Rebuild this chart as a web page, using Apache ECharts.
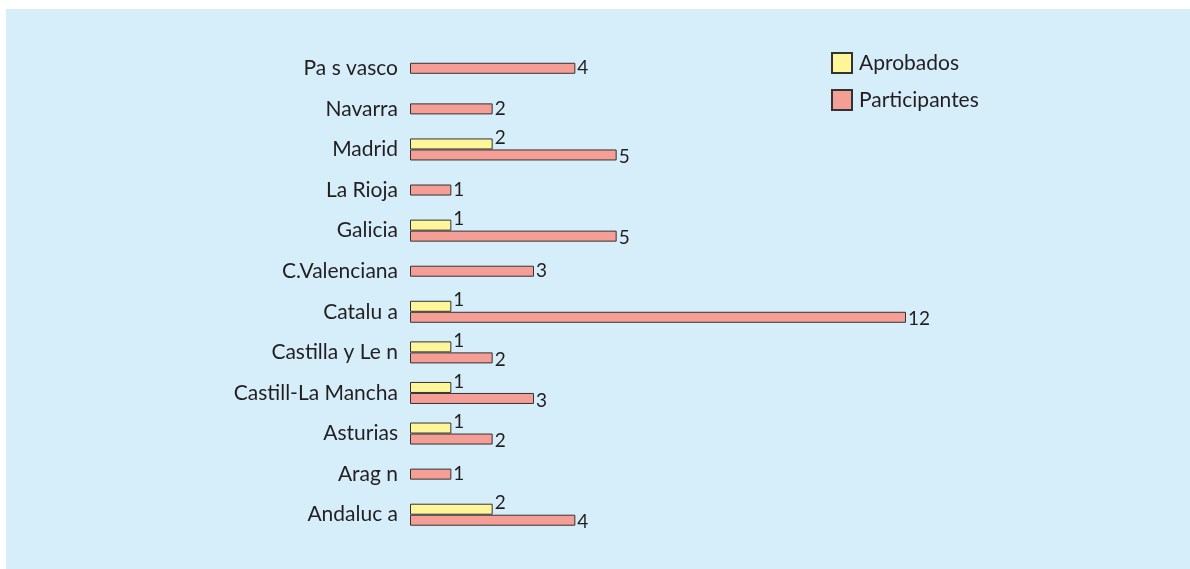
<!DOCTYPE html>
<html>
<head>
<meta charset="utf-8">
<script src="https://cdn.jsdelivr.net/npm/echarts@6/dist/echarts.min.js"></script>
<style>
  html, body { margin: 0; padding: 0; background: #fff; }
  #chart { width: 1190px; height: 569px; }
</style>
</head>
<body>
<div id="chart"></div>
<script>
// categorias de arriba abajo
const regiones = ['Pa s vasco', 'Navarra', 'Madrid', 'La Rioja', 'Galicia', 'C.Valenciana',
  'Catalu a', 'Castilla y Le n', 'Castill-La Mancha', 'Asturias', 'Arag n', 'Andaluc a'];
const aprobados = [null, null, 2, null, 1, null, 1, 1, 1, 1, null, 2];
const participantes = [4, 2, 5, 1, 5, 3, 12, 2, 3, 2, 1, 4];

// las barras sin aprobados van centradas (en otro eje)
const partPareja = participantes.map((v, i) => aprobados[i] == null ? null : v);
const partSola = participantes.map((v, i) => aprobados[i] == null ? v : null);

const fuente = 'Lato';
const texto = '#231f20';
const borde = { borderColor: '#333', borderWidth: 1 };

const chart = echarts.init(document.getElementById('chart'));

const option = {
  animation: false,
  textStyle: { fontFamily: fuente, color: texto },
  graphic: [{
    type: 'rect', z: -10, silent: true,
    shape: { x: 6, y: 9, width: 1184, height: 560 },
    style: { fill: '#d5eefa' }
  }],
  legend: {
    data: ['Aprobados', 'Participantes'],
    orient: 'vertical',
    left: 831, top: 52, padding: 0,
    itemWidth: 20, itemHeight: 20, itemGap: 15,
    icon: 'rect',
    textStyle: { fontFamily: fuente, fontSize: 21, color: texto, padding: [0, 0, 0, 2] }
  },
  grid: { left: 410, right: 284, top: 48, height: 487, containLabel: false },
  xAxis: {
    type: 'value', min: 0, max: 12, show: false
  },
  yAxis: [{
    type: 'category', data: regiones, inverse: true,
    axisLine: { show: false }, axisTick: { show: false },
    axisLabel: { fontFamily: fuente, fontSize: 21, color: texto, margin: 12 }
  }, {
    type: 'category', data: regiones, inverse: true, show: false
  }],
  series: [{
    name: 'Aprobados', type: 'bar', yAxisIndex: 0,
    data: aprobados, barWidth: 11, barGap: 0,
    itemStyle: Object.assign({ color: '#fff69a' }, borde),
    label: { show: true, position: 'right', distance: 2, offset: [0, -6],
      fontFamily: fuente, fontSize: 19, color: texto }
  }, {
    name: 'Participantes', type: 'bar', yAxisIndex: 0,
    data: partPareja, barWidth: 11, barGap: 0,
    itemStyle: Object.assign({ color: '#f59e96' }, borde),
    label: { show: true, position: 'right', distance: 2, offset: [0, 2],
      fontFamily: fuente, fontSize: 19, color: texto }
  }, {
    name: 'Participantes', type: 'bar', yAxisIndex: 1,
    data: partSola, barWidth: 11,
    itemStyle: Object.assign({ color: '#f59e96' }, borde),
    label: { show: true, position: 'right', distance: 2,
      fontFamily: fuente, fontSize: 19, color: texto }
  }]
};

chart.setOption(option);
window.addEventListener('resize', () => {
  chart.resize();
});
</script>
</body>
</html>
